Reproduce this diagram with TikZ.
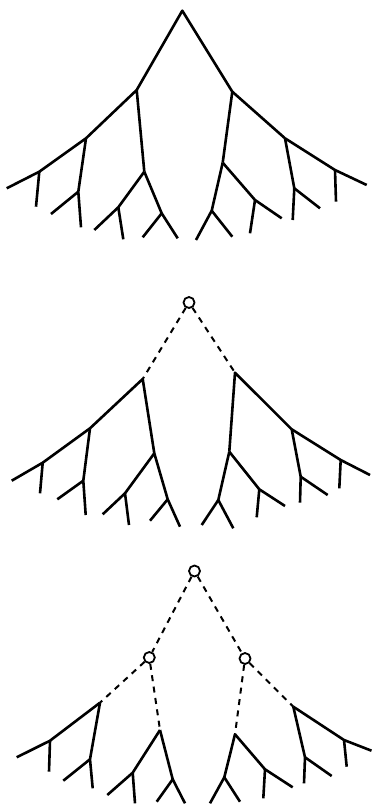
\documentclass[tikz,border=0pt]{standalone}
\begin{document}
\begin{tikzpicture}[
  x=1pt, y=-1pt,
  brnch/.style = {line width=2.6pt, line join=round},
  dashlink/.style = {line width=2pt, dash pattern=on 6pt off 5.5pt},
  ring/.style = {circle, draw, line width=1.8pt, minimum size=11pt, inner sep=0pt}
]
  \useasboundingbox (0,0) rectangle (373,805);
  % tree a: full tree
  \coordinate (aR) at (182.3,10.7);
  \coordinate (aA) at (136.7,90);     \coordinate (aB) at (232.3,91.7);
  \coordinate (aL1) at (86,138.3);    \coordinate (aL2) at (39.3,171.7);
  \coordinate (aLa) at (6.7,188.3);   \coordinate (aLb) at (36,206.7);
  \coordinate (aL3) at (78.3,191.7);  \coordinate (aLc) at (51,214);
  \coordinate (aLd) at (81,227.3);
  \coordinate (aM) at (144.3,171.7);  \coordinate (aM1) at (118.3,207.3);
  \coordinate (aMa) at (94.3,230);    \coordinate (aMb) at (123.3,239.3);
  \coordinate (aM2) at (161.7,213.3); \coordinate (aMc) at (142.7,237.3);
  \coordinate (aMd) at (177.7,238.3);
  \coordinate (aN) at (222.7,162.7);  \coordinate (aN1) at (211.7,210.7);
  \coordinate (aNa) at (196,240);     \coordinate (aNb) at (232.3,236.7);
  \coordinate (aN2) at (255,200);     \coordinate (aNc) at (250,233.3);
  \coordinate (aNd) at (281.7,218.3);
  \coordinate (aP) at (285,138.3);    \coordinate (aP2) at (294.3,188.3);
  \coordinate (aPa) at (292.7,220);   \coordinate (aPb) at (320,208.3);
  \coordinate (aP3) at (335,170);     \coordinate (aPc) at (336,201.7);
  \coordinate (aPd) at (366.7,185);
  % tree b: root cut off
  \node[ring] (bR) at (189,302.5) {};
  \coordinate (bA) at (142.7,379);    \coordinate (bB) at (235,372.7);
  \coordinate (bL1) at (90,428.3);    \coordinate (bL2) at (42.7,462.7);
  \coordinate (bLa) at (11.7,480.7);  \coordinate (bLb) at (40,493.3);
  \coordinate (bL3) at (83.3,480.7);  \coordinate (bLc) at (57.3,499.3);
  \coordinate (bLd) at (85.7,515);
  \coordinate (bM) at (154.3,453.3);  \coordinate (bM1) at (125,493.3);
  \coordinate (bMa) at (102.7,514.3); \coordinate (bMb) at (129,525);
  \coordinate (bM2) at (167.7,499.3); \coordinate (bMc) at (150,520.7);
  \coordinate (bMd) at (180,526.7);
  \coordinate (bN) at (229.3,451.7);  \coordinate (bN1) at (218.3,500);
  \coordinate (bNa) at (201.7,525);   \coordinate (bNb) at (233.3,528.3);
  \coordinate (bN2) at (259.3,489.3); \coordinate (bNc) at (256.7,517.3);
  \coordinate (bNd) at (285,506);
  \coordinate (bP) at (291.7,429.3);  \coordinate (bP2) at (300.7,476.7);
  \coordinate (bPa) at (300,502.7);   \coordinate (bPb) at (327.7,495);
  \coordinate (bP3) at (340.7,460);   \coordinate (bPc) at (339.3,488.3);
  \coordinate (bPd) at (370,475);
  % tree c: two levels cut off
  \node[ring] (cR) at (194.5,571) {};
  \node[ring] (cA) at (149.3,657.5) {};
  \node[ring] (cB) at (245,658.5) {};
  \coordinate (cL1) at (100,702.7);   \coordinate (cL2) at (50,740.7);
  \coordinate (cLa) at (16.7,757.3);  \coordinate (cLb) at (49,771.7);
  \coordinate (cL3) at (90,759.3);    \coordinate (cLc) at (63.3,780.7);
  \coordinate (cLd) at (92.7,788.3);
  \coordinate (cM) at (160,730);      \coordinate (cM1) at (132.7,772.7);
  \coordinate (cMa) at (107.3,795);   \coordinate (cMb) at (135,803.3);
  \coordinate (cM2) at (172.7,779.3); \coordinate (cMc) at (156.7,801.7);
  \coordinate (cMd) at (185,803.3);
  \coordinate (cN) at (235,734.3);    \coordinate (cN1) at (224.3,777.3);
  \coordinate (cNa) at (210,803.3);   \coordinate (cNb) at (240,801.7);
  \coordinate (cN2) at (265,769.3);   \coordinate (cNc) at (263.3,798.3);
  \coordinate (cNd) at (292.7,787.3);
  \coordinate (cP) at (293.3,706.7);  \coordinate (cP2) at (305,757.3);
  \coordinate (cPa) at (304,783.3);   \coordinate (cPb) at (331.7,776);
  \coordinate (cP3) at (344,740);     \coordinate (cPc) at (346.7,766.7);
  \coordinate (cPd) at (371.5,750.7);
  % lower branches, same in all three
  \foreach \t in {a,b,c} {
    \draw[brnch] (\t L1) -- (\t L2) -- (\t La);
    \draw[brnch] (\t L2) -- (\t Lb);
    \draw[brnch] (\t L1) -- (\t L3) -- (\t Ld);
    \draw[brnch] (\t L3) -- (\t Lc);
    \draw[brnch] (\t M) -- (\t M2) -- (\t Md);
    \draw[brnch] (\t M2) -- (\t Mc);
    \draw[brnch] (\t M) -- (\t M1) -- (\t Ma);
    \draw[brnch] (\t M1) -- (\t Mb);
    \draw[brnch] (\t N) -- (\t N1) -- (\t Na);
    \draw[brnch] (\t N1) -- (\t Nb);
    \draw[brnch] (\t N) -- (\t N2) -- (\t Nd);
    \draw[brnch] (\t N2) -- (\t Nc);
    \draw[brnch] (\t P) -- (\t P3) -- (\t Pd);
    \draw[brnch] (\t P3) -- (\t Pc);
    \draw[brnch] (\t P) -- (\t P2) -- (\t Pa);
    \draw[brnch] (\t P2) -- (\t Pb);
  }
  % upper branches
  \foreach \t in {a,b} {
    \draw[brnch] (\t L1) -- (\t A) -- (\t M);
    \draw[brnch] (\t P) -- (\t B) -- (\t N);
  }
  \draw[brnch] (aA) -- (aR) -- (aB);
  \draw[dashlink] (bR) -- (bA);
  \draw[dashlink] (bR) -- (bB);
  \draw[dashlink] (cR) -- (cA);
  \draw[dashlink] (cR) -- (cB);
  \draw[dashlink] (cA) -- (cL1);
  \draw[dashlink] (cA) -- (cM);
  \draw[dashlink] (cB) -- (cN);
  \draw[dashlink] (cB) -- (cP);
\end{tikzpicture}
\end{document}
